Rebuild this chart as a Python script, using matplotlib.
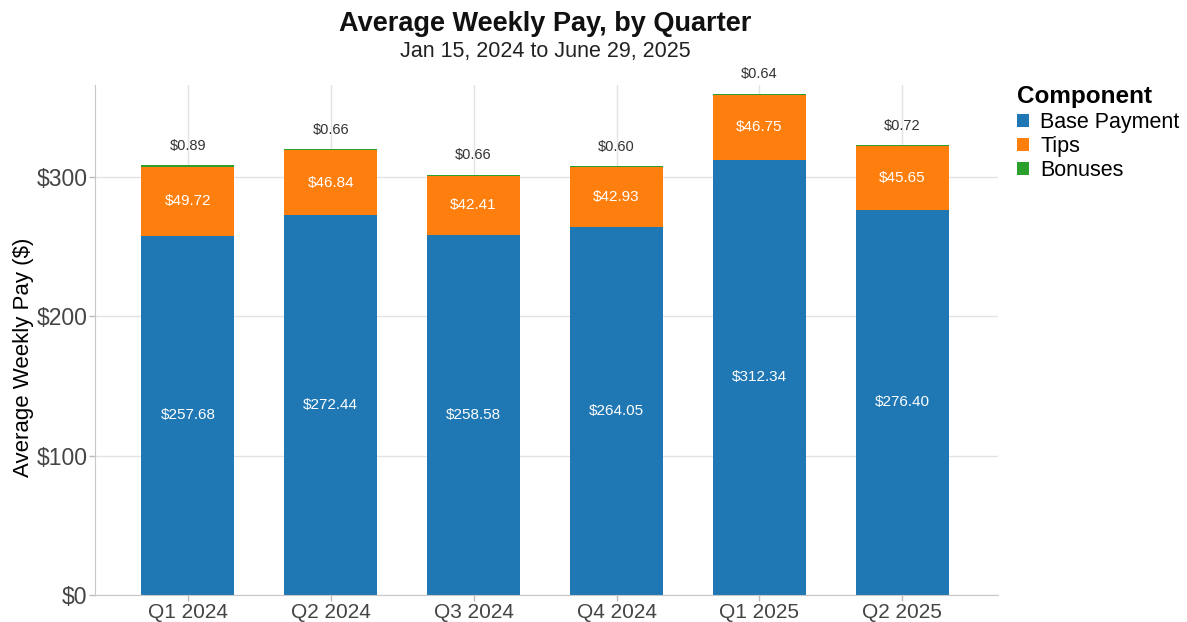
import matplotlib

matplotlib.use("Agg")
import matplotlib.pyplot as plt
import numpy as np

plt.rcParams["font.family"] = ["Liberation Sans", "DejaVu Sans"]

quarters = ["Q1 2024", "Q2 2024", "Q3 2024", "Q4 2024", "Q1 2025", "Q2 2025"]
base_payment = [257.68, 272.44, 258.58, 264.05, 312.34, 276.40]
tips = [49.72, 46.84, 42.41, 42.93, 46.75, 45.65]
bonuses = [0.89, 0.66, 0.66, 0.60, 0.64, 0.72]

colors = {"Base Payment": "#1f77b4", "Tips": "#ff7f0e", "Bonuses": "#2ca02c"}

fig = plt.figure(figsize=(11.87, 6.22), dpi=100)
ax = fig.add_axes([95 / 1187, 27 / 622, 903 / 1187, 510 / 622])

x = np.arange(len(quarters))
width = 0.65
base = np.array(base_payment)
tip = np.array(tips)
bonus = np.array(bonuses)

ax.bar(x, base, width, color=colors["Base Payment"], label="Base Payment", zorder=2)
ax.bar(x, tip, width, bottom=base, color=colors["Tips"], label="Tips", zorder=2)
ax.bar(x, bonus, width, bottom=base + tip, color=colors["Bonuses"], label="Bonuses", zorder=2)

for i in x:
    ax.text(i, base[i] / 2, f"${base[i]:.2f}", ha="center", va="center",
            color="white", fontsize=11, zorder=3)
    ax.text(i, base[i] + tip[i] / 2, f"${tip[i]:.2f}", ha="center", va="center",
            color="white", fontsize=11, zorder=3)
    ax.annotate(f"${bonus[i]:.2f}", (i, base[i] + tip[i] + bonus[i]),
                xytext=(0, 14), textcoords="offset points", ha="center", va="center",
                color="#333333", fontsize=10.5, zorder=3)

ax.set_xlim(-0.65, len(quarters) - 1 + 0.67)
ax.set_ylim(0, 366)
ax.set_xticks(x)
ax.set_xticklabels(quarters)
ax.set_yticks([0, 100, 200, 300])
ax.set_yticklabels(["$0", "$100", "$200", "$300"])
ax.tick_params(axis="both", colors="#bbbbbb", labelcolor="#444444", length=4, width=1, pad=1.5)
ax.tick_params(axis="x", labelsize=15)
ax.tick_params(axis="y", labelsize=16.5)
ax.grid(True, color="#e3e3e3", linewidth=1, zorder=0)
ax.set_axisbelow(True)
for side in ("top", "right"):
    ax.spines[side].set_visible(False)
for side in ("left", "bottom"):
    ax.spines[side].set_color("#c8c8c8")
ax.set_ylabel("Average Weekly Pay ($)", fontsize=16, color="#000000")
ax.yaxis.set_label_coords(-0.068, 0.467)

fig.text(0.459, 0.962, "Average Weekly Pay, by Quarter", ha="center", va="center",
         fontsize=19.5, fontweight="bold", color="#111111")
fig.text(0.459, 0.918, "Jan 15, 2024 to June 29, 2025", ha="center", va="center",
         fontsize=15.5, color="#222222")

leg = ax.legend(loc="upper left", bbox_to_anchor=(1.012, 1.016), frameon=False,
                title="Component", fontsize=15.5, handlelength=0.55, handleheight=0.55,
                handletextpad=0.5, labelspacing=0.15, borderaxespad=0)
leg.get_title().set_fontweight("bold")
leg.get_title().set_fontsize(17.5)
leg._legend_box.align = "left"

fig.savefig("out.png", dpi=100)
